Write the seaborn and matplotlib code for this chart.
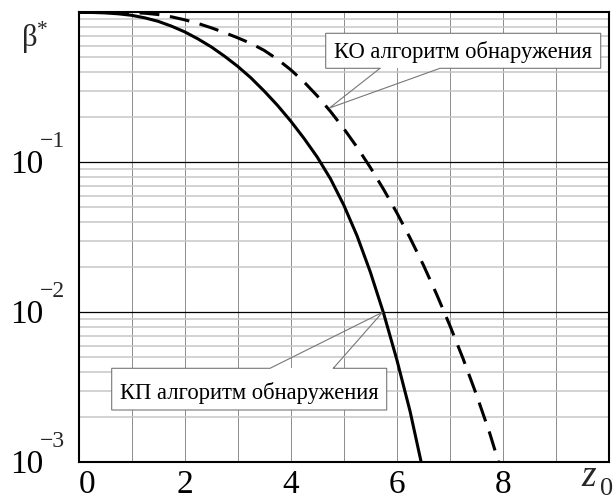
import numpy as np
import pandas as pd
import matplotlib
matplotlib.use('Agg')
import matplotlib.pyplot as plt
import matplotlib.transforms as mtransforms
import seaborn as sns
from matplotlib.patches import Rectangle
from matplotlib.ticker import LogLocator, NullFormatter

# ---- data ----
kp_x = [0, 0.25, 0.5, 0.75, 1, 1.25, 1.5, 1.75, 2, 2.25, 2.5, 2.75, 3, 3.25, 3.5, 3.75,
        4, 4.25, 4.5, 4.75, 5, 5.25, 5.5, 5.75, 6, 6.25, 6.46]
kp_beta = [1.0, 0.9977, 0.9908, 0.9772, 0.9550, 0.9183, 0.8710, 0.8091, 0.7413, 0.6653,
           0.5888, 0.5105, 0.4365, 0.3656, 0.2985, 0.2399, 0.1884, 0.1445, 0.1084, 0.0776,
           0.0519, 0.0324, 0.0186, 0.00989, 0.00484, 0.00219, 0.00100]
ko_x = [0, 1, 1.25, 1.5, 1.75, 2, 2.25, 2.5, 2.75, 3, 3.25, 3.5, 3.75, 4, 4.25, 4.5,
        4.75, 5, 5.25, 5.5, 5.75, 6, 6.25, 6.5, 6.75, 7, 7.25, 7.5, 7.75, 7.92]
ko_beta = [1.0, 0.9954, 0.9863, 0.9661, 0.9333, 0.8913, 0.8433, 0.7889, 0.7328, 0.6761,
           0.6202, 0.5572, 0.4864, 0.4140, 0.3436, 0.2773, 0.2183, 0.1679, 0.1262, 0.0925,
           0.0661, 0.0461, 0.0313, 0.0207, 0.0132, 0.00817, 0.00490, 0.00283, 0.00157, 0.00100]
series = ['КП', 'КО']
kp_label = 'КП алгоритм обнаружения'
ko_label = 'КО алгоритм обнаружения'
x_ticks = [0, 2, 4, 6, 8]
x_tick_labels = ['0', '2', '4', '6', '8']
y_ticks = [1e-1, 1e-2, 1e-3]
y_tick_labels = ['10', '10', '10']
y_tick_exponents = ['−1', '−2', '−3']
y_label = 'β$^{*}$'

sns.set_theme(style='white')
plt.rcParams['font.family'] = ['Liberation Serif', 'DejaVu Serif']
plt.rcParams['mathtext.fontset'] = 'custom'
plt.rcParams['mathtext.rm'] = 'Liberation Serif'
plt.rcParams['mathtext.it'] = 'Liberation Serif:italic'
plt.rcParams['mathtext.bf'] = 'Liberation Serif:bold'

df = pd.concat([
    pd.DataFrame({'z': kp_x, 'beta': kp_beta, 'alg': series[0]}),
    pd.DataFrame({'z': ko_x, 'beta': ko_beta, 'alg': series[1]}),
], ignore_index=True)

W, H = 615, 500
DPI = 100
fig = plt.figure(figsize=(W / DPI, H / DPI), dpi=DPI)
ax_l, ax_r, ax_t, ax_b = 78.5, 609, 12.3, 462.3
ax = fig.add_axes([ax_l / W, 1 - ax_b / H, (ax_r - ax_l) / W, (ax_b - ax_t) / H])
ax.set_yscale('log')

sns.lineplot(data=df, x='z', y='beta', style='alg', style_order=series,
             dashes={series[0]: '', series[1]: (6.5, 3.5)},
             color='black', linewidth=2.2, legend=False, ax=ax, zorder=2,
             estimator=None, sort=False)

ax.set_xlim(0, 10)
ax.set_ylim(1e-3, 1)
ax.set_xlabel('')
ax.set_ylabel('')

ax.set_xticks(x_ticks)
ax.set_xticklabels(x_tick_labels)
ax.set_xticks(np.arange(0, 11), minor=True)
ax.set_yticks(y_ticks)
ax.set_yticklabels(y_tick_labels)
ax.yaxis.set_minor_locator(LogLocator(base=10, subs=np.arange(2, 10)))
ax.yaxis.set_minor_formatter(NullFormatter())

ax.grid(which='both', axis='x', color='#8c8c8c', lw=0.7)
ax.grid(which='minor', axis='y', color='#c6c6c6', lw=1.1)
ax.grid(which='major', axis='y', color='black', lw=0.9)
ax.set_axisbelow(True)
ax.tick_params(which='both', length=0)
ax.tick_params(axis='x', labelsize=24, pad=5.5, colors='black')
ax.tick_params(axis='y', labelsize=24, pad=(ax_l - 43.5) * 72 / DPI, colors='black')
for s in ax.spines.values():
    s.set_color('black')
    s.set_linewidth(1.5)
    s.set_visible(True)

# y tick labels: "10" on a baseline below the grid line, exponent raised
down = mtransforms.ScaledTranslation(0, -10.6 / DPI, fig.dpi_scale_trans)
for lbl in ax.get_yticklabels():
    lbl.set_verticalalignment('baseline')
    lbl.set_transform(lbl.get_transform() + down)
# first x tick label sits a little right of the axis
xl = ax.get_xticklabels()
xl[0].set_transform(xl[0].get_transform() +
                    mtransforms.ScaledTranslation(9 / DPI, 0, fig.dpi_scale_trans))

blend = mtransforms.blended_transform_factory(ax.transAxes, ax.transData)
up = mtransforms.ScaledTranslation(0, 15.5 / DPI, fig.dpi_scale_trans)
for val, ex in zip(y_ticks, y_tick_exponents):
    ax.text((39.5 - ax_l) / (ax_r - ax_l), val, ex, transform=blend + up,
            ha='left', va='baseline', fontsize=17, clip_on=False)

# y label β* and x label z0
fig.text(35 / W, 1 - 38 / H, y_label, fontsize=22, ha='center', va='center')
fig.text(581 / W, 1 - 486 / H, 'z', fontsize=27, style='italic', ha='left', va='baseline')
fig.text(600 / W, 1 - 495 / H, '0', fontsize=19, ha='left', va='baseline')


def px2ax(px, py):
    return ((px - ax_l) / (ax_r - ax_l), (ax_b - py) / (ax_b - ax_t))


def callout(text, box_px, base_px, tip_data, baseline_py, side):
    (x0, y1), (x1, y0) = px2ax(box_px[0], box_px[1]), px2ax(box_px[2], box_px[3])
    bx0 = px2ax(base_px[0], 0)[0]
    bx1 = px2ax(base_px[1], 0)[0]
    tip = ax.transAxes.inverted().transform(ax.transData.transform(tip_data))
    ax.add_patch(Rectangle((x0, y0), x1 - x0, y1 - y0, transform=ax.transAxes,
                           facecolor='white', edgecolor='none', zorder=3))
    if side == 'bottom':
        verts = [(bx0, y0), (x0, y0), (x0, y1), (x1, y1), (x1, y0), (bx1, y0), tuple(tip), (bx0, y0)]
    else:
        verts = [(bx1, y1), (x1, y1), (x1, y0), (x0, y0), (x0, y1), (bx0, y1), tuple(tip), (bx1, y1)]
    xs, ys = zip(*verts)
    ax.plot(xs, ys, transform=ax.transAxes, color='#777777', lw=0.8, zorder=4,
            solid_joinstyle='miter', clip_on=False)
    ax.text((x0 + x1) / 2, px2ax(0, baseline_py)[1], text, transform=ax.transAxes,
            ha='center', va='baseline', fontsize=16.3, zorder=5, color='black')


callout(ko_label, (325.7, 33.3, 600.7, 68.3), (380, 440), (4.73, 0.23), 58.5, 'bottom')
callout(kp_label, (111.7, 368.3, 386.7, 410), (270, 333.3), (5.73, 0.01), 398.5, 'top')

fig.savefig('out.png', dpi=DPI)
